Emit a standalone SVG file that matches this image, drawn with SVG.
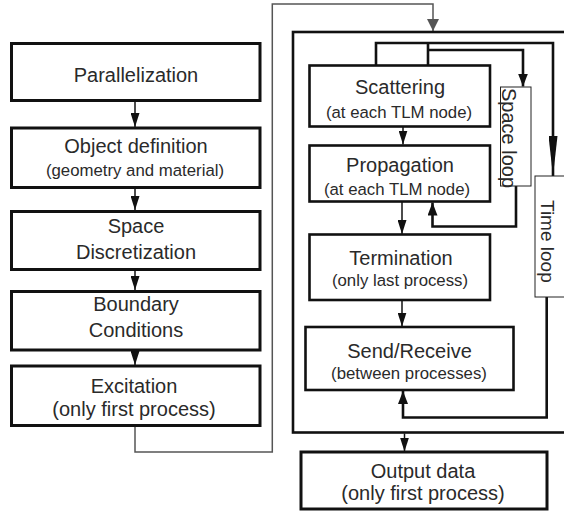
<svg xmlns="http://www.w3.org/2000/svg" width="564" height="511" viewBox="0 0 564 511">
<style>
.box{fill:#fff;stroke:#111;stroke-width:3}
.ibox{fill:#fff;stroke:#111;stroke-width:2.6}
.lbox{fill:#fff;stroke:#222;stroke-width:1}
.t{font-family:"Liberation Sans",Arial,sans-serif;font-size:20px;fill:#2a2a2a;text-anchor:middle}
.s{font-family:"Liberation Sans",Arial,sans-serif;font-size:16.8px;fill:#2a2a2a;text-anchor:middle}
.v{font-family:"Liberation Sans",Arial,sans-serif;font-size:20px;fill:#2a2a2a}
.a{fill:none;stroke:#111;stroke-width:1.5}
.loop{fill:none;stroke:#111;stroke-width:2.6}
.g{fill:none;stroke:#555;stroke-width:1.5}
</style>
<defs>
<marker id="ah" viewBox="0 0 14 9" refX="14" refY="4.5" markerWidth="14" markerHeight="9" markerUnits="userSpaceOnUse" orient="auto"><path d="M0,0 L14,4.5 L0,9 z" fill="#111"/></marker>
<marker id="ahb" viewBox="0 0 13 10" refX="13" refY="5" markerWidth="13" markerHeight="10" markerUnits="userSpaceOnUse" orient="auto"><path d="M0,0 L13,5 L0,10 z" fill="#111"/></marker>
<marker id="ahl" viewBox="0 0 40 9" refX="40" refY="4.5" markerWidth="40" markerHeight="9" markerUnits="userSpaceOnUse" orient="auto"><path d="M0,0 L40,4.5 L0,9 z" fill="#111"/></marker>
<marker id="ahg" viewBox="0 0 12 12" refX="12" refY="6" markerWidth="12" markerHeight="12" markerUnits="userSpaceOnUse" orient="auto"><path d="M0,0 L12,6 L0,12 z" fill="#555"/></marker>
</defs>

<g id="connectors">
<path class="g" d="M135,426 V452 H272.3 V4 H433 V31" marker-end="url(#ahg)"/>
<path class="a" d="M135,101 V127" marker-end="url(#ah)"/>
<path class="a" d="M135,188 V210" marker-end="url(#ah)"/>
<path class="a" d="M135,270 V290" marker-end="url(#ah)"/>
<path class="a" d="M135,350 V365" marker-end="url(#ah)"/>
<path class="a" d="M403,127 V144.5" marker-end="url(#ah)"/>
<path class="a" d="M402,201.5 V234" marker-end="url(#ah)"/>
<path class="a" d="M402,300 V326.5" marker-end="url(#ah)"/>
<path class="a" d="M404.5,433.5 V451.5" marker-end="url(#ah)"/>
<path class="loop" d="M376,65 V43 H553 V176" marker-end="url(#ahl)"/>
<path class="loop" d="M428,65 V43"/>
<path class="loop" d="M428,50 H523 V86.5" marker-end="url(#ahb)"/>
<path class="loop" d="M516,186 V226.5 H432.5 V202.5" marker-end="url(#ahb)"/>
<path class="loop" d="M546.7,297 V417.5 H403 V391" marker-end="url(#ahb)"/>
</g>

<g id="mainloop"><rect x="293" y="32" width="290" height="400.5" fill="none" stroke="#111" stroke-width="2.6"/></g>

<g id="parallelization"><rect class="box" x="11.5" y="43.5" width="248.5" height="57"/><text class="t" x="136" y="81.5">Parallelization</text></g>
<g id="object"><rect class="box" x="11.5" y="128" width="248.5" height="59.5"/><text class="t" x="136" y="153">Object definition</text><text class="s" x="135" y="175.5">(geometry and material)</text></g>
<g id="space"><rect class="box" x="11.5" y="211.5" width="248.5" height="58"/><text class="t" x="136" y="232.5">Space</text><text class="t" x="136" y="259">Discretization</text></g>
<g id="boundary"><rect class="box" x="11.5" y="291.5" width="248.5" height="58.5"/><text class="t" x="136" y="310.5">Boundary</text><text class="t" x="136" y="337">Conditions</text></g>
<g id="excitation"><rect class="box" x="11.5" y="366" width="248.5" height="59.5"/><text class="t" x="134" y="393">Excitation</text><text class="t" x="134" y="416">(only first process)</text></g>

<g id="scattering"><rect class="ibox" x="309.5" y="65.5" width="180.5" height="61"/><text class="t" x="400" y="93.8">Scattering</text><text class="s" x="399" y="117.5">(at each TLM node)</text></g>
<g id="propagation"><rect class="ibox" x="309.5" y="145.5" width="180.5" height="56"/><text class="t" x="400" y="172.3">Propagation</text><text class="s" x="397" y="195">(at each TLM node)</text></g>
<g id="termination"><rect class="ibox" x="309.5" y="234.5" width="180.5" height="65.5"/><text class="t" x="401" y="265">Termination</text><text class="s" x="400" y="285.5">(only last process)</text></g>
<g id="sendreceive"><rect class="ibox" x="305.5" y="327" width="208" height="63"/><text class="t" x="409.5" y="357.5">Send/Receive</text><text class="s" x="409" y="379">(between processes)</text></g>
<g id="spaceloop"><rect class="lbox" x="500.5" y="87" width="30.5" height="99"/><text class="v" transform="translate(502,88) rotate(90)">Space loop</text></g>
<g id="timeloop"><rect class="lbox" x="535" y="176" width="40" height="121"/><text class="v" style="font-size:19px" transform="translate(540.5,200) rotate(90)">Time loop</text></g>
<g id="output"><rect class="box" x="301" y="452" width="246" height="57"/><text class="t" x="423" y="477.5">Output data</text><text class="t" x="423" y="499.5">(only first process)</text></g>
</svg>
